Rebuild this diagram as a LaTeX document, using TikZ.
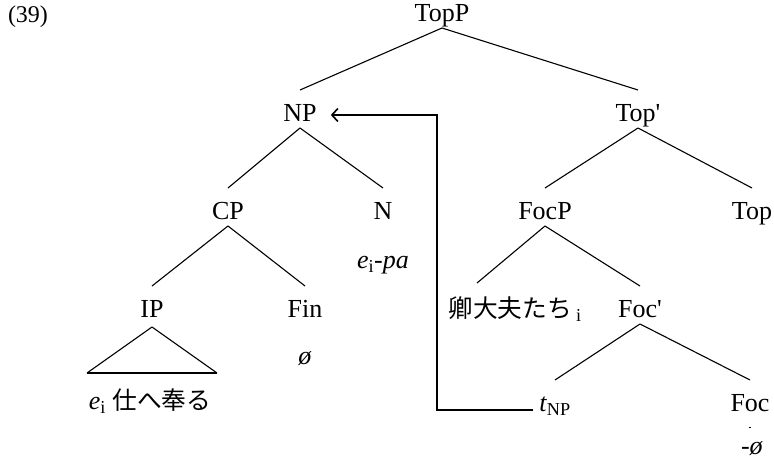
\documentclass[tikz,border=0pt]{standalone}
\usepackage{fontspec}
\setmainfont{Liberation Serif}
\newfontfamily\jp[Scale=0.95]{Noto Sans CJK JP}
\usetikzlibrary{calc,arrows.meta}

\begin{document}
\begin{tikzpicture}[x=1pt,y=-1pt,
  cat/.style={inner sep=0pt,text height=18pt,text depth=5pt,font=\fontsize{26}{30}\selectfont},
  branch/.style={line width=1.1pt},
  >={Straight Barb[length=6pt,width=13pt]}]
\useasboundingbox (0,0) rectangle (774,460);

\draw node[cat] (ex) at (28,16){\fontsize{24}{28}\selectfont(39)};

% categories
\draw node[cat] (topp) at (442,15){TopP};
\draw node[cat] (np) at (300,115){NP};
\draw node[cat] (topbar) at (638,115){Top\textquotesingle};
\draw node[cat] (cp) at (228,213){CP};
\draw node[cat] (n) at (383,213){N};
\draw node[cat] (focp) at (545,213){FocP};
\draw node[cat] (top) at (752,213){Top};
\draw node[cat] (ip) at (152,311){IP};
\draw node[cat] (fin) at (305,311){Fin};
\draw node[cat] (kei) at (515,311){{\jp 卿大夫たち}\,\textsubscript{i}};
\draw node[cat] (focbar) at (640,311){Foc\textquotesingle};
\draw node[cat] (tnp) at (555,405){\textit{t}\textsubscript{NP}};
\draw node[cat] (foc) at (750,405){Foc};

% words
\draw node[cat] (epa) at (383,262){\textit{e}\textsubscript{i}\textit{-pa}};
\draw node[cat] (finnull) at (305,358){\textit{ø}};
\draw node[cat] (ipwords) at (150,403){\textit{e}\textsubscript{i} {\jp 仕へ奉る}};
\draw node[cat] (focnull) at (752,448){\textit{-ø}};
\fill (749,427) rectangle ++(1.5,1);

% branches
\draw[branch] ($ (topp)+(0,13)$) -- ($ (np)+(0,-25)$);
\draw[branch] ($ (topp)+(0,13)$) -- ($ (topbar)+(0,-25)$);
\draw[branch] ($ (np)+(0,13)$) -- ($ (cp)+(0,-25)$);
\draw[branch] ($ (np)+(0,13)$) -- ($ (n)+(0,-25)$);
\draw[branch] ($ (topbar)+(0,13)$) -- ($ (focp)+(0,-25)$);
\draw[branch] ($ (topbar)+(0,13)$) -- ($ (top)+(0,-25)$);
\draw[branch] ($ (cp)+(0,13)$) -- ($ (ip)+(0,-25)$);
\draw[branch] ($ (cp)+(0,13)$) -- ($ (fin)+(0,-25)$);
\draw[branch] ($ (focp)+(0,13)$) -- ($ (kei)+(-38,-28)$);
\draw[branch] ($ (focp)+(0,13)$) -- ($ (focbar)+(0,-25)$);
\draw[branch] ($ (focbar)+(0,13)$) -- ($ (tnp)+(0,-25)$);
\draw[branch] ($ (focbar)+(0,13)$) -- ($ (foc)+(0,-25)$);

% triangle over the IP words
\draw[branch] ($ (ip)+(0,16)$) -- ($ (ip)+(-65,62)$);
\draw[branch] ($ (ip)+(0,16)$) -- ($ (ip)+(65,62)$);
\draw[line width=1.6pt] ($ (ip)+(-65,62)$) -- ($ (ip)+(65,62)$);

% movement
\coordinate (turn) at (437,115);
\draw[->,line width=1.6pt] ([xshift=-6pt,yshift=-5pt]tnp.west) -| (turn) -- ([xshift=14pt]np.east);

\end{tikzpicture}
\end{document}
